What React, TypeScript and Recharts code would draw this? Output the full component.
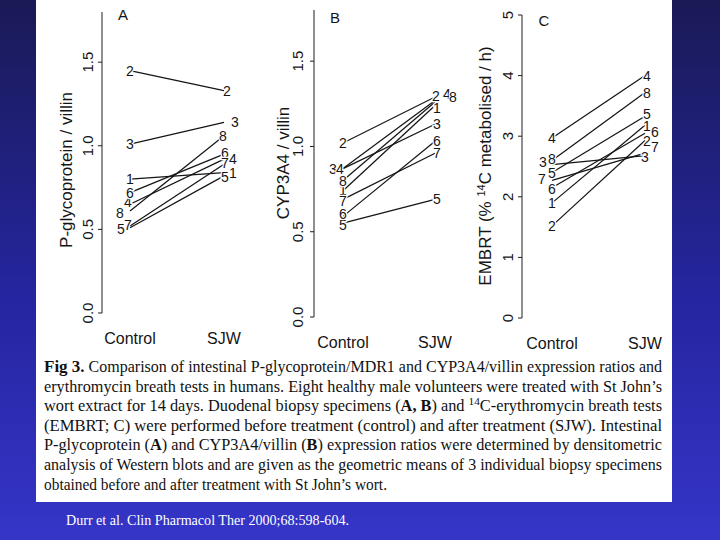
import React from "react";
import { LineChart, Line, XAxis, YAxis } from "recharts";

const categories = ["Control", "SJW"];
const subjects = [1, 2, 3, 4, 5, 6, 7, 8];

// A: P-glycoprotein / villin, subjects 1..8
const pgpControl = [0.8, 1.45, 1.01, 0.65, 0.51, 0.72, 0.52, 0.61];
const pgpSjw = [0.84, 1.33, 1.14, 0.92, 0.82, 0.95, 0.89, 1.06];
const pgpTicks = [0, 0.5, 1, 1.5];

// B: CYP3A4 / villin
const cypControl = [0.74, 1.02, 0.87, 0.87, 0.55, 0.59, 0.69, 0.8];
const cypSjw = [1.24, 1.29, 1.13, 1.27, 0.69, 1.03, 0.96, 1.26];
const cypTicks = [0, 0.5, 1, 1.5];

// C: EMBRT (% 14C metabolised / h)
const embrtControl = [1.9, 1.52, 2.53, 2.97, 2.4, 2.15, 2.27, 2.6];
const embrtSjw = [3.18, 2.93, 2.68, 4.0, 3.33, 3.05, 2.72, 3.72];
const embrtTicks = [0, 1, 2, 3, 4, 5];

const captionLines: [string, string][][] = [
  [["Fig 3.", "b"], [" Comparison of intestinal P-glycoprotein/MDR1 and CYP3A4/villin expression ratios and", ""]],
  [["erythromycin breath tests in humans. Eight healthy male volunteers were treated with St John\u2019s", ""]],
  [["wort extract for 14 days. Duodenal biopsy specimens (", ""], ["A, B", "b"], [") and ", ""], ["14", "sup"], ["C-erythromycin breath tests", ""]],
  [["(EMBRT; C) were performed before treatment (control) and after treatment (SJW). Intestinal", ""]],
  [["P-glycoprotein (", ""], ["A", "b"], [") and CYP3A4/villin (", ""], ["B", "b"], [") expression ratios were determined by densitometric", ""]],
  [["analysis of Western blots and are given as the geometric means of 3 individual biopsy specimens", ""]],
  [["obtained before and after treatment with St John\u2019s wort.", ""]],
];
const citation = "Durr et al. Clin Pharmacol Ther 2000;68:598-604.";

const sans = "'Liberation Sans', Arial, Helvetica, sans-serif";
const serif = "'Liberation Serif', 'Times New Roman', serif";
const ink = "#151515";

// label nudges for overlapping subject numbers: [control, sjw] -> [dx, dy]
type Nudge = Record<number, [number, number][]>;
const nudgeA: Nudge = {
  2: [[0, 0], [3, 0]], 3: [[0, 0], [11, 0]], 4: [[-2, -2], [9, 0]], 1: [[0, 0], [9, 0]],
  5: [[-9, 1], [1, 1]], 7: [[-2, -1], [1, -1]], 8: [[-10, 2], [-1, 0]], 6: [[0, 0], [1, -1]],
};
const nudgeB: Nudge = {
  3: [[-10, 0], [2, 0]], 4: [[-3, 0], [12, -6]], 8: [[0, 0], [18, -5]], 1: [[0, -1], [2, 2]],
  2: [[0, 0], [1, -1]], 5: [[0, 2], [2, 0]], 6: [[0, -2], [2, 0]], 7: [[0, 2], [2, 0]],
};
const nudgeC: Nudge = {
  3: [[-9, -3], [0, 1]], 7: [[-10, -1], [10, -6]], 6: [[0, 1], [10, -1]], 8: [[0, -1], [2, 0]],
  4: [[0, 0], [2, 0]], 5: [[0, 0], [2, -2]], 1: [[0, 0], [2, 1]], 2: [[0, 0], [2, 1]],
};

type PanelProps = {
  left: number;
  control: number[];
  sjw: number[];
  ticks: number[];
  domain: [number, number];
  digits: number;
  plotTop: number;
  plotBottom: number;
  padL: number;
  padR: number;
  tickGap: number;
  nudge: Nudge;
  title: React.ReactNode;
  titleDx: number;
  titleY: number;
};

function Panel(p: PanelProps) {
  const data = categories.map((c, i) => {
    const row: any = { cat: c };
    subjects.forEach((s, k) => {
      row["s" + s] = (i === 0 ? p.control : p.sjw)[k];
    });
    return row;
  });

  const yTick = (t: any) => (
    <text
      x={t.x}
      y={t.y}
      transform={`rotate(-90 ${t.x} ${t.y})`}
      textAnchor="middle"
      fontSize={15}
      fontFamily={sans}
      fill={ink}
    >
      {Number(t.payload.value).toFixed(p.digits)}
    </text>
  );

  const xTick = (t: any) => (
    <text x={t.x} y={t.y + 31} textAnchor="middle" fontSize={16} fontFamily={sans} fill={ink}>
      {t.payload.value}
    </text>
  );

  const title = (lp: any) => {
    const vb = lp.viewBox || { x: 0 };
    const x = (vb.x || 0) + p.titleDx;
    return (
      <text
        x={x}
        y={p.titleY}
        transform={`rotate(-90 ${x} ${p.titleY})`}
        textAnchor="middle"
        fontSize={17}
        fontFamily={sans}
        fill={ink}
      >
        {p.title}
      </text>
    );
  };

  const numberLabel = (s: number) => (d: any) => {
    const [dx, dy] = (p.nudge[s] || [[0, 0], [0, 0]])[d.index] || [0, 0];
    return (
      <text
        key={`lab-${s}-${d.index}`}
        x={d.cx + dx}
        y={d.cy + dy}
        dy="0.36em"
        textAnchor="middle"
        fontSize={14}
        fontFamily={sans}
        fill={ink}
        stroke="#fff"
        strokeWidth={2.5}
        paintOrder="stroke"
      >
        {s}
      </text>
    );
  };

  return (
    <div style={{ position: "absolute", left: p.left, top: 0 }}>
      <LineChart
        width={230}
        height={360}
        data={data}
        margin={{ top: p.plotTop, right: 0, bottom: 360 - p.plotBottom - 30, left: 0 }}
      >
        <XAxis
          dataKey="cat"
          axisLine={false}
          tickLine={false}
          tickSize={0}
          tickMargin={0}
          height={30}
          interval={0}
          padding={{ left: p.padL, right: p.padR }}
          tick={xTick}
        />
        <YAxis
          type="number"
          domain={p.domain}
          ticks={p.ticks}
          interval={0}
          width={62}
          allowDataOverflow
          stroke="#1e1e1e"
          tickSize={4}
          tickMargin={p.tickGap - 4}
          tick={yTick}
          label={title}
        />
        {subjects.map((s) => (
          <Line
            key={"l" + s}
            dataKey={"s" + s}
            stroke={ink}
            strokeWidth={1.25}
            dot={false}
            activeDot={false}
            type="linear"
            isAnimationActive={false}
          />
        ))}
        {subjects.map((s) => (
          <Line
            key={"n" + s}
            dataKey={"s" + s}
            stroke="none"
            dot={numberLabel(s)}
            activeDot={false}
            type="linear"
            isAnimationActive={false}
          />
        ))}
      </LineChart>
    </div>
  );
}

export default function App() {
  return (
    <div
      style={{
        position: "absolute",
        left: 0,
        top: 0,
        width: 720,
        height: 540,
        overflow: "hidden",
        background: "linear-gradient(180deg, #1a1a56 0%, #2525a0 55%, #3535c8 100%)",
      }}
    >
      <div style={{ position: "absolute", left: 36, top: 0, width: 636, height: 502, background: "#fff" }} />
      <Panel
        left={40}
        control={pgpControl}
        sjw={pgpSjw}
        ticks={pgpTicks}
        domain={[0, 1.8]}
        digits={1}
        plotTop={12}
        plotBottom={313}
        padL={28}
        padR={46}
        tickGap={9}
        nudge={nudgeA}
        title="P-glycoprotein / villin"
        titleDx={32}
        titleY={170}
      />
      <Panel
        left={252}
        control={cypControl}
        sjw={cypSjw}
        ticks={cypTicks}
        domain={[0, 1.8]}
        digits={1}
        plotTop={10}
        plotBottom={317}
        padL={29}
        padR={47}
        tickGap={11}
        nudge={nudgeB}
        title="CYP3A4 / villin"
        titleDx={37}
        titleY={163}
      />
      <Panel
        left={460}
        control={embrtControl}
        sjw={embrtSjw}
        ticks={embrtTicks}
        domain={[0, 5]}
        digits={0}
        plotTop={15}
        plotBottom={318}
        padL={30}
        padR={45}
        tickGap={9}
        nudge={nudgeC}
        title={
          <>
            <tspan>EMBRT (% </tspan>
            <tspan fontSize={11} dy={-6}>14</tspan>
            <tspan dy={6}>C metabolised / h)</tspan>
          </>
        }
        titleDx={31}
        titleY={166}
      />
      <svg
        width={720}
        height={540}
        style={{ position: "absolute", left: 0, top: 0, pointerEvents: "none" }}
      >
        <g fontFamily={sans} fontSize={15} fill={ink}>
          <text x={123} y={20} textAnchor="middle">A</text>
          <text x={335} y={23} textAnchor="middle">B</text>
          <text x={544} y={26} textAnchor="middle">C</text>
        </g>
        <g fontFamily={serif} fontSize={16} fill="#111">
          {captionLines.map((line, i) => {
            let afterSup = false;
            return (
              <text
                key={i}
                x={44}
                y={372 + i * 19.6}
                textLength={i === captionLines.length - 1 ? 343 : 618}
                lengthAdjust="spacingAndGlyphs"
              >
                {line.map(([t, s], j) => {
                  if (s === "sup") {
                    afterSup = true;
                    return (
                      <tspan key={j} fontSize={11} dy={-6}>
                        {t}
                      </tspan>
                    );
                  }
                  const dy = afterSup ? 6 : undefined;
                  afterSup = false;
                  return (
                    <tspan key={j} dy={dy} fontWeight={s === "b" ? "bold" : undefined} fontSize={i === 0 && j === 0 ? 17 : undefined}>
                      {t}
                    </tspan>
                  );
                })}
              </text>
            );
          })}
        </g>
        <text x={66} y={525} fontFamily={serif} fontSize={15} fill="#fff" textLength={283} lengthAdjust="spacingAndGlyphs">
          {citation}
        </text>
      </svg>
    </div>
  );
}
